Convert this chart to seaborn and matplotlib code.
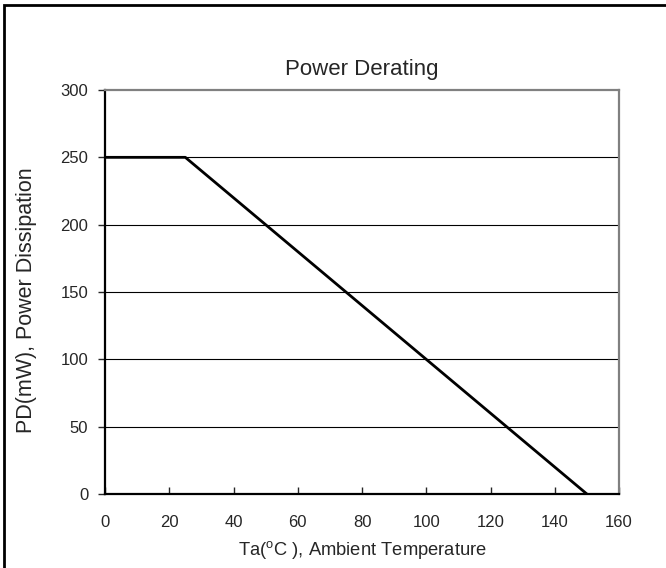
import pandas as pd
import matplotlib.pyplot as plt
import seaborn as sns
from matplotlib.patches import Rectangle

# derating curve points
temp = [0, 25, 150]
power = [250, 250, 0]
xticks = [0, 20, 40, 60, 80, 100, 120, 140, 160]
yticks = [0, 50, 100, 150, 200, 250, 300]

df = pd.DataFrame({'Ta': temp, 'PD': power})

sns.set_style('white')
plt.rcParams['font.family'] = ['Liberation Sans', 'DejaVu Sans']
plt.rcParams['mathtext.default'] = 'regular'

fig = plt.figure(figsize=(6.66, 5.68), dpi=100)
ax = fig.add_axes([105/666, 1-494/568, 514/666, 404/568])

# horizontal grid only
for y in yticks[1:-1]:
    ax.axhline(y, color='black', lw=0.8, zorder=1)

sns.lineplot(data=df, x='Ta', y='PD', color='black', lw=2, ax=ax, zorder=3)

ax.set_xlim(0, 160)
ax.set_ylim(0, 300)
ax.set_xticks(xticks)
ax.set_yticks(yticks)
ax.tick_params(axis='x', direction='in', length=5, width=1, labelsize=12, pad=15)
ax.tick_params(axis='y', direction='out', length=5, width=1, labelsize=12, pad=7)
ax.yaxis.set_ticks_position('left')
ax.xaxis.set_ticks_position('bottom')

for s in ['left', 'bottom']:
    ax.spines[s].set_color('black')
    ax.spines[s].set_linewidth(1.6)
for s in ['top', 'right']:
    ax.spines[s].set_color('#808080')
    ax.spines[s].set_linewidth(1.6)

ax.set_title('Power Derating', fontsize=16, pad=11)
ax.set_xlabel('Ta($^{o}$C ), Ambient Temperature', fontsize=13.2, labelpad=6.5)
ax.set_ylabel('PD(mW), Power Dissipation', fontsize=15.5, labelpad=17)
ax.yaxis.label.set_y(0.48)

# outer frame (top and left edges visible)
fig.patches.append(Rectangle((4/666, -0.1), 1.2, 1 - 5/568 + 0.1, transform=fig.transFigure,
                             fill=False, edgecolor='black', lw=2))

fig.savefig('out.png', dpi=100)
